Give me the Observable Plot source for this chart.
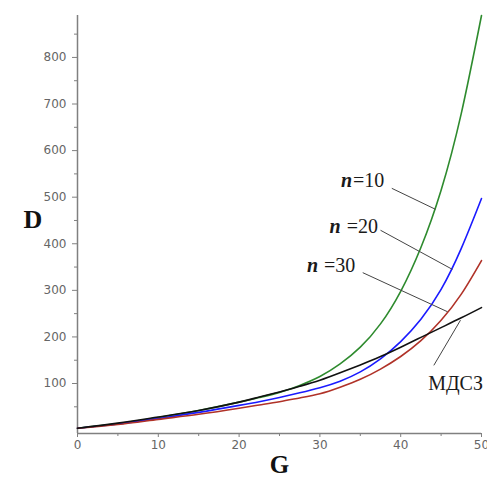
<!DOCTYPE html>
<html>
<head>
<meta charset="utf-8">
<script src="https://cdn.jsdelivr.net/npm/d3@7"></script>
<script src="https://cdn.jsdelivr.net/npm/@observablehq/plot@0.6"></script>
<style>
  html, body { margin: 0; padding: 0; background: #fff; }
  #chart svg { display: block; }
</style>
</head>
<body>
<div id="chart"></div>
<script>
// ---- data ----
const G     = [0, 5, 10, 15, 20, 22.5, 25, 27.5, 30, 32.5, 35, 37.5, 40, 42.5, 45, 47.5, 50];
const n10   = [4, 14, 27, 42, 60, 70, 81, 96, 115, 142, 178, 228, 298, 392, 515, 680, 890];
const n20   = [4, 13, 25, 38, 53, 61, 70, 80, 91, 105, 125, 153, 190, 238, 302, 390, 497];
const n30   = [4, 12, 23, 34, 47, 54, 61, 69, 78, 92, 109, 131, 158, 192, 236, 292, 364];
const mdsz  = [4, 15, 28, 42, 60, 71, 82, 94, 107, 123, 140, 158, 178, 199, 220, 241, 263];

const seriesNames  = ["n10", "n20", "n30", "МДСЗ"];
const seriesColors = ["#2e8b2e", "#1a1aff", "#b03228", "#111111"];

const xTicks      = [0, 10, 20, 30, 40, 50];
const xMinorTicks = [5, 15, 25, 35, 45];
const yTicks      = [100, 200, 300, 400, 500, 600, 700, 800];
const yMinorTicks = [50, 150, 250, 350, 450, 550, 650, 750, 850];

// annotation labels (data coordinates)
const labelN    = ["n", "n", "n"];
const labelRest = ["=10", " =20", " =30"];
const labelG    = [34.1, 32.7, 29.9];
const labelD    = [536, 437, 353];
const leaderG1  = [38.9, 37.5, 35.3, 44.1];
const leaderD1  = [519, 429, 338, 139];
const leaderG2  = [44.3, 46.4, 45.8, 47.4];
const leaderD2  = [474, 345, 254, 236];
const mdszLabel = "МДСЗ";

// ---- build tidy table ----
const valuesBy = [n10, n20, n30, mdsz];
const rows = [];
seriesNames.forEach((s, i) => G.forEach((g, j) => rows.push({series: s, G: g, D: valuesBy[i][j]})));

const labels = labelN.map((n, i) => ({n, rest: labelRest[i], G: labelG[i], D: labelD[i]}));
const leaders = leaderG1.map((g, i) => ({x1: g, y1: leaderD1[i], x2: leaderG2[i], y2: leaderD2[i]}));

const yMin = -7.3, yMax = 890;
const axisColor = "#808080";
const serif = "'Liberation Serif', 'Times New Roman', serif";

const chart = Plot.plot({
  width: 487,
  height: 481,
  marginLeft: 77,
  marginRight: 6,
  marginTop: 15,
  marginBottom: 48,
  style: {background: "#fff", fontFamily: "'DejaVu Sans', sans-serif"},
  x: {domain: [0, 50]},
  y: {domain: [yMin, yMax]},
  color: {domain: seriesNames, range: seriesColors},
  marks: [
    // axes
    Plot.axisX({ticks: xTicks, tickSize: 4, tickPadding: 3, fontSize: 12, color: "#666", stroke: axisColor, label: null}),
    Plot.axisX({ticks: xMinorTicks, tickSize: 3, text: null, stroke: axisColor, label: null}),
    Plot.axisY({ticks: yTicks, tickSize: 5, tickPadding: 6, fontSize: 12, color: "#666", stroke: axisColor, label: null}),
    Plot.axisY({ticks: yMinorTicks, tickSize: 3, text: null, stroke: axisColor, label: null}),
    Plot.ruleX([0], {stroke: axisColor, strokeWidth: 1.5}),
    Plot.ruleY([yMin], {stroke: axisColor, strokeWidth: 1.5}),
    // curves
    Plot.line(rows, {x: "G", y: "D", z: "series", stroke: "series", strokeWidth: 1.6, curve: "natural"}),
    // leader lines
    Plot.link(leaders, {x1: "x1", y1: "y1", x2: "x2", y2: "y2", stroke: "#444", strokeWidth: 1}),
    // labels
    Plot.text(labels, {x: "G", y: "D", text: "n", textAnchor: "end", dx: -1, fontStyle: "italic", fontWeight: "bold", fontSize: 20, fontFamily: serif, fill: "#1a1a1a"}),
    Plot.text(labels, {x: "G", y: "D", text: "rest", textAnchor: "start", fontSize: 20, fontFamily: serif, fill: "#1a1a1a"}),
    Plot.text([mdszLabel], {x: 43.4, y: 100, text: d => d, textAnchor: "start", fontSize: 20, fontFamily: serif, fill: "#1a1a1a"}),
    // axis titles
    Plot.text(["D"], {frameAnchor: "left", text: d => d, dx: -54, dy: -5, fontSize: 26, fontWeight: "bold", fontFamily: serif, fill: "#111"}),
    Plot.text(["G"], {frameAnchor: "bottom", text: d => d, dy: 39, fontSize: 25, fontWeight: "bold", fontFamily: serif, fill: "#111"})
  ]
});
document.getElementById("chart").appendChild(chart);
</script>
</body>
</html>
